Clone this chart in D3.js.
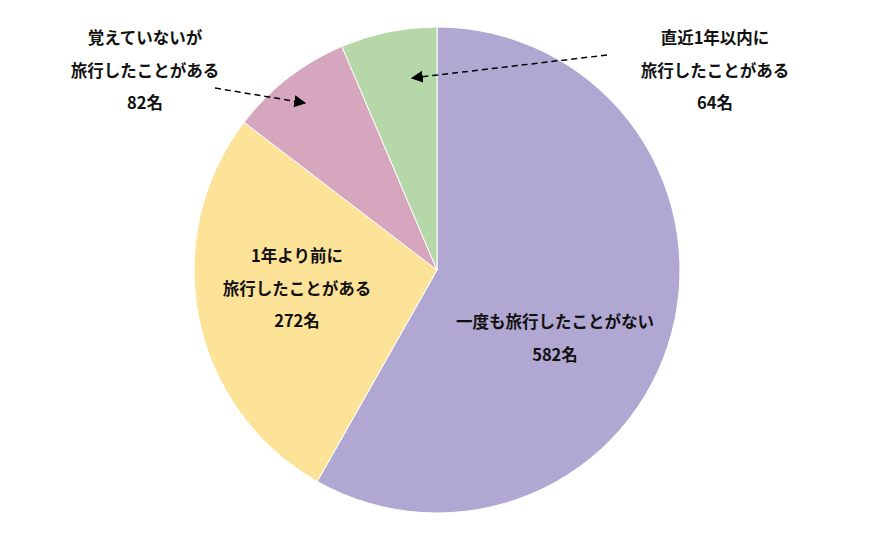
<!DOCTYPE html><html><head><meta charset="utf-8"><script src="https://cdn.jsdelivr.net/npm/d3@7"></script>
<style>body{margin:0;background:#fff}</style></head><body><svg id="c" width="875" height="541"></svg>
<script>
const categories=["一度も旅行したことがない","1年より前に旅行したことがある","覚えていないが旅行したことがある","直近1年以内に旅行したことがある"];
const values=[582,272,82,64];
const colors=["#b1a7d3","#fde398","#d5a6bd","#b6d7a8"];
const svg=d3.select("#c");
const cx=437,cy=270,r=243;
const pie=d3.pie().sort(null).value(d=>d)(values);
const arc=d3.arc().innerRadius(0).outerRadius(r);
const g=svg.append("g").attr("transform",`translate(${cx},${cy})`);
g.selectAll("path").data(pie).join("path").attr("d",arc).attr("fill",(d,i)=>colors[i]).attr("stroke","#fff").attr("stroke-width",1);
svg.append("defs").append("marker").attr("id","ah").attr("viewBox","0 0 10 10").attr("refX",9).attr("refY",5).attr("markerWidth",8).attr("markerHeight",8).attr("orient","auto")
 .append("path").attr("d","M0,0L10,5L0,10z").attr("fill","#000");
function lbl(x,y,lines){const t=svg.append("text").attr("text-anchor","middle").attr("font-family","Noto Sans CJK JP").attr("font-weight","bold").attr("font-size",16.5).attr("fill","#111");
lines.forEach((l,i)=>t.append("tspan").attr("x",x).attr("y",y+i*32.5).text(l));}
lbl(555,328,["一度も旅行したことがない",values[0]+"名"]);
lbl(297,262,["1年より前に","旅行したことがある",values[1]+"名"]);
lbl(145,44,["覚えていないが","旅行したことがある",values[2]+"名"]);
lbl(715,44,["直近1年以内に","旅行したことがある",values[3]+"名"]);
svg.append("line").attr("x1",215).attr("y1",88).attr("x2",305).attr("y2",103).attr("stroke","#000").attr("stroke-width",1.5).attr("stroke-dasharray","6,4").attr("marker-end","url(#ah)");
svg.append("line").attr("x1",607).attr("y1",55).attr("x2",412).attr("y2",78).attr("stroke","#000").attr("stroke-width",1.5).attr("stroke-dasharray","6,4").attr("marker-end","url(#ah)");
</script></body></html>
